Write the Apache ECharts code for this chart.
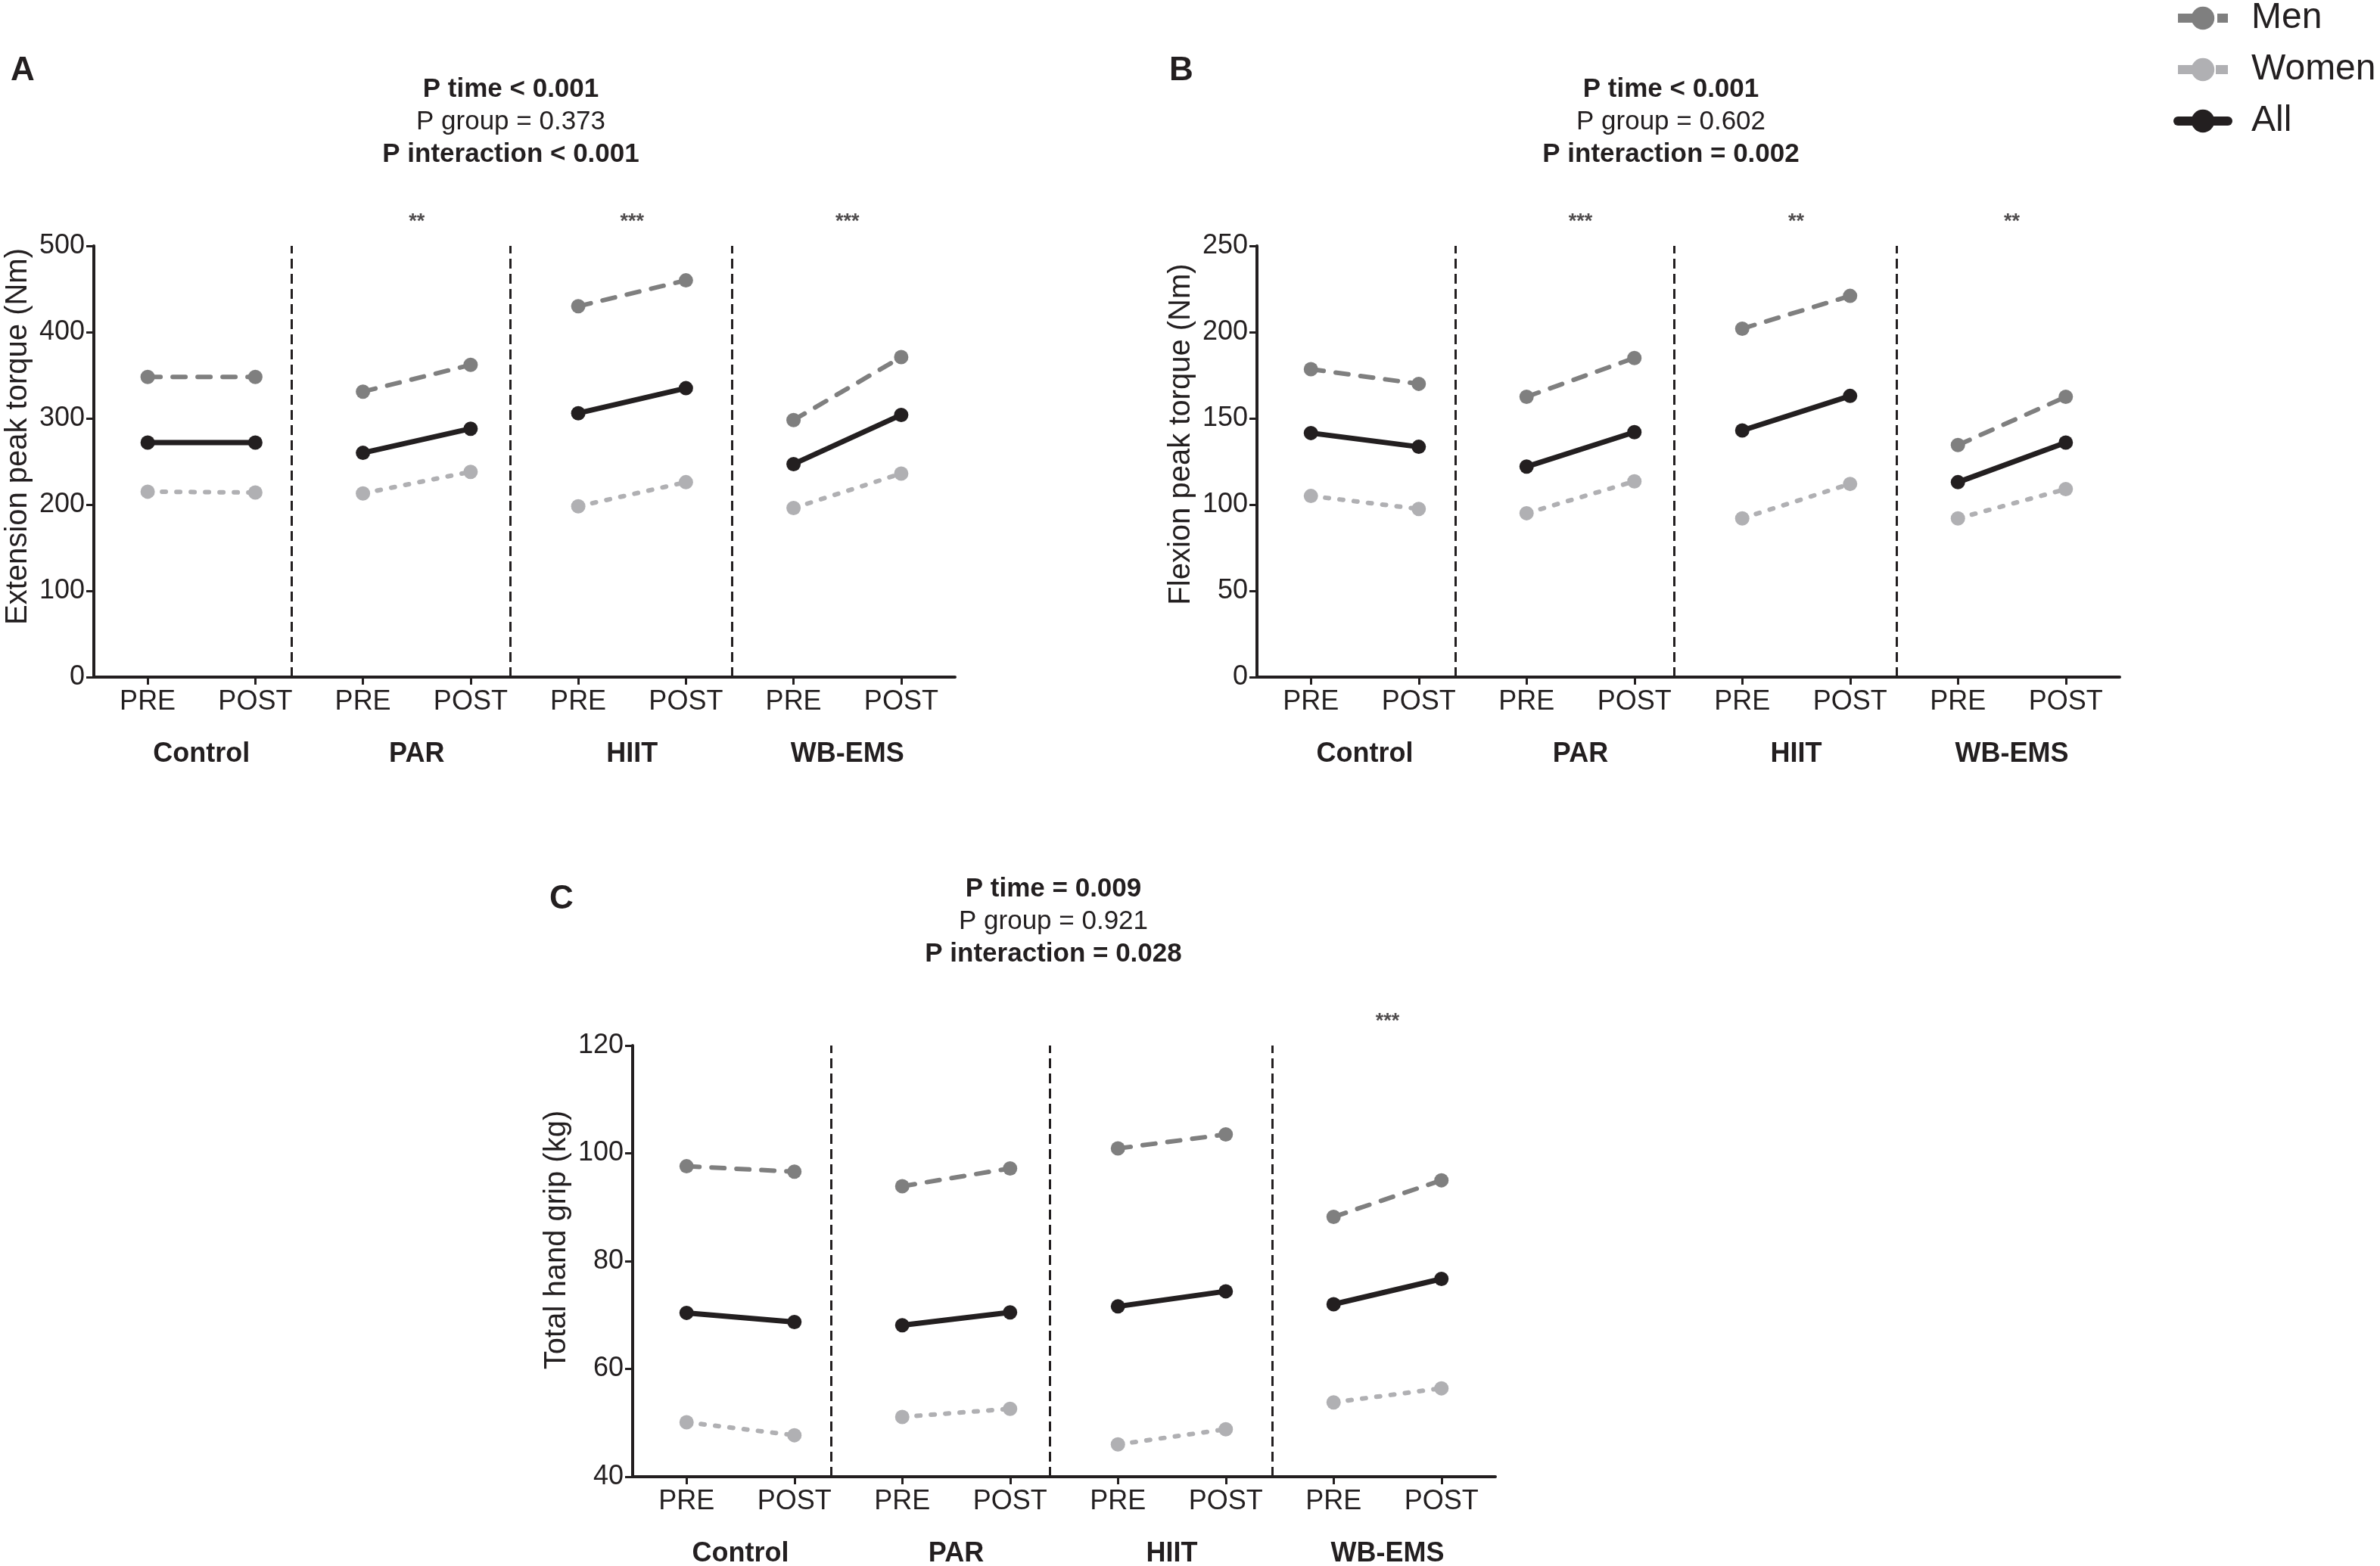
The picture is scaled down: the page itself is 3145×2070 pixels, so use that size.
<!DOCTYPE html>
<html>
<head>
<meta charset="utf-8">
<title>Strength PRE / POST</title>
<script src="https://cdn.jsdelivr.net/npm/echarts@6/dist/echarts.min.js"></script>
<style>
    html, body { margin: 0; padding: 0; background: #fff; }
    #main { width: 3145px; height: 2070px; }
</style>
</head>
<body>
<div id="main"></div>
<script>
// 数据
const timeLabels = ['PRE', 'POST', 'PRE', 'POST', 'PRE', 'POST', 'PRE', 'POST']
const groupNames = ['Control', 'PAR', 'HIIT', 'WB-EMS']
const dividerAt = [1.34, 3.37, 5.43]

// A: extension peak torque (Nm)
const extMen = [348, 348, 331, 362, 430, 460, 298, 371]
const extWomen = [215, 214, 213, 238, 198, 226, 196, 236]
const extAll = [272, 272, 260, 288, 306, 335, 247, 304]
const extStars = ['', '**', '***', '***']
const extStats = ['P time < 0.001', 'P group = 0.373', 'P interaction < 0.001']
const extTicks = [0, 500, 100]

// B: flexion peak torque (Nm)
const flexMen = [178.5, 170, 162.5, 185, 202, 221, 134.5, 162.5]
const flexWomen = [105, 97.5, 95, 113.5, 92, 112, 92, 109]
const flexAll = [141.5, 133.5, 122, 142, 143, 163, 113, 136]
const flexStars = ['', '***', '**', '**']
const flexStats = ['P time < 0.001', 'P group = 0.602', 'P interaction = 0.002']
const flexTicks = [0, 250, 50]

// C: total hand grip (kg)
const gripMen = [97.6, 96.6, 93.9, 97.2, 100.9, 103.5, 88.2, 95]
const gripWomen = [50.1, 47.7, 51.1, 52.6, 46, 48.8, 53.8, 56.4]
const gripAll = [70.4, 68.7, 68.1, 70.5, 71.6, 74.4, 72, 76.7]
const gripStars = ['', '', '', '***']
const gripStats = ['P time = 0.009', 'P group = 0.921', 'P interaction = 0.028']
const gripTicks = [40, 120, 20]

const FONT = '"Liberation Sans", Arial, sans-serif'
const INK = '#231f20'
const MEN = '#7f7f7f'
const WOMEN = '#b0b0b3'

const strengthChart = {

    init() {
        let chart = echarts.init(document.getElementById('main'))
        chart.setOption(this.createOption())
    },

    // 每个面板的布局
    panels() {
        return [
            { letter: 'A', name: 'Extension peak torque (Nm)', men: extMen, women: extWomen, all: extAll,
              stars: extStars, stats: extStats, ticks: extTicks, namePad: 66,
              grid: { left: 124, top: 325, width: 1138, height: 570 }, letterAt: [14, 72], titleAt: [675, 97] },
            { letter: 'B', name: 'Flexion peak torque (Nm)', men: flexMen, women: flexWomen, all: flexAll,
              stars: flexStars, stats: flexStats, ticks: flexTicks, namePad: 72,
              grid: { left: 1661, top: 325, width: 1140, height: 570 }, letterAt: [1545, 72], titleAt: [2208, 97] },
            { letter: 'C', name: 'Total hand grip (kg)', men: gripMen, women: gripWomen, all: gripAll,
              stars: gripStars, stats: gripStats, ticks: gripTicks, namePad: 56,
              grid: { left: 836, top: 1382, width: 1140, height: 570 }, letterAt: [726, 1167], titleAt: [1392, 1154] }
        ]
    },

    // PRE-POST 成对, 组之间断开
    pairs(values) {
        let out = []
        values.forEach((v, i) => {
            out.push([i, v])
            if (i % 2 === 1 && i < values.length - 1) out.push([i + 0.5, '-'])
        })
        return out
    },

    lineSeries(name, values, gi, color, width, dash) {
        return {
            name: name,
            type: 'line',
            xAxisIndex: gi * 2,
            yAxisIndex: gi,
            data: this.pairs(values),
            symbol: 'circle',
            symbolSize: 19,
            showSymbol: true,
            connectNulls: false,
            itemStyle: { color: color },
            lineStyle: { color: color, width: width, type: dash, cap: 'round' },
            emphasis: { disabled: true },
            silent: true
        }
    },

    createOption() {
        let option = {
            animation: false,
            backgroundColor: '#fff',
            textStyle: { fontFamily: FONT, color: INK },
            title: [],
            grid: [],
            xAxis: [],
            yAxis: [],
            series: [],
            legend: {
                data: [
                    { name: 'Men', lineStyle: { width: 12, type: [36, 16], cap: 'butt' } },
                    { name: 'Women', lineStyle: { width: 12, type: [30, 20], cap: 'butt' } },
                    { name: 'All', lineStyle: { width: 12, type: 'solid' } }
                ],
                orient: 'vertical',
                left: 2872,
                top: 0,
                padding: 0,
                itemWidth: 66,
                itemHeight: 38,
                itemGap: 20,
                selectedMode: false,
                textStyle: { fontFamily: FONT, fontSize: 48, color: INK, padding: [0, 0, 0, 26] }
            }
        }

        this.panels().forEach((p, gi) => {
            option.grid.push(Object.assign({ outerBoundsMode: 'none', containLabel: false }, p.grid))

            // 面板字母
            option.title.push({
                text: p.letter, left: p.letterAt[0], top: p.letterAt[1], padding: 0,
                textStyle: { fontFamily: FONT, fontSize: 44, fontWeight: 'bold', color: INK }
            })

            // P 值
            option.title.push({
                text: '{b|' + p.stats[0] + '}\n{n|' + p.stats[1] + '}\n{b|' + p.stats[2] + '}',
                left: p.titleAt[0], top: p.titleAt[1], textAlign: 'center', padding: 0,
                textStyle: {
                    fontWeight: 'normal',
                    rich: {
                        b: { fontFamily: FONT, fontSize: 35, fontWeight: 'bold', color: INK, lineHeight: 43 },
                        n: { fontFamily: FONT, fontSize: 35, fontWeight: 'normal', color: INK, lineHeight: 43 }
                    }
                }
            })

            // PRE / POST
            option.xAxis.push({
                gridIndex: gi, type: 'value', min: -0.5, max: 7.5,
                axisLine: { show: true, onZero: false, lineStyle: { color: INK, width: 4 } },
                axisTick: { show: true, length: 10, lineStyle: { color: INK, width: 3 }, customValues: [0, 1, 2, 3, 4, 5, 6, 7] },
                axisLabel: {
                    customValues: [0, 1, 2, 3, 4, 5, 6, 7],
                    formatter: v => timeLabels[Math.round(v)] || '',
                    fontFamily: FONT, fontSize: 36, color: INK, margin: 15
                },
                splitLine: { show: false }
            })
            // 组名
            option.xAxis.push({
                gridIndex: gi, type: 'value', min: -0.5, max: 7.5, position: 'bottom',
                axisLine: { show: false, onZero: false }, axisTick: { show: false }, splitLine: { show: false },
                axisLabel: {
                    customValues: [0.5, 2.5, 4.5, 6.5],
                    formatter: v => groupNames[Math.round((v - 0.5) / 2)] || '',
                    fontFamily: FONT, fontSize: 36, fontWeight: 'bold', color: INK, margin: 84
                }
            })

            option.yAxis.push({
                gridIndex: gi, type: 'value', min: p.ticks[0], max: p.ticks[1], interval: p.ticks[2],
                name: p.name, nameLocation: 'middle', nameGap: 80, nameRotate: 90,
                nameTextStyle: { fontFamily: FONT, fontSize: 40, color: INK, padding: [0, 0, 0, p.namePad] },
                axisLine: { show: true, onZero: false, lineStyle: { color: INK, width: 4 } },
                axisTick: { show: true, length: 10, lineStyle: { color: INK, width: 3 } },
                axisLabel: { fontFamily: FONT, fontSize: 36, color: INK, margin: 12 },
                splitLine: { show: false }
            })

            let men = this.lineSeries('Men', p.men, gi, MEN, 6, [17, 16])
            let women = this.lineSeries('Women', p.women, gi, WOMEN, 6, [5, 14])
            let all = this.lineSeries('All', p.all, gi, INK, 7, 'solid')

            // 组间虚线
            women.markLine = {
                silent: true,
                symbol: ['none', 'none'],
                label: { show: false },
                lineStyle: { color: INK, width: 3, type: [13, 7] },
                data: dividerAt.map(x => ({ xAxis: x }))
            }

            // 星号
            let stars = {
                name: 'stars',
                type: 'scatter',
                xAxisIndex: gi * 2,
                yAxisIndex: gi,
                symbolSize: 0,
                silent: true,
                clip: false,
                data: p.stars
                    .map((s, i) => ({ name: s, value: [2 * i + 0.5, p.ticks[1]] }))
                    .filter(d => d.name !== ''),
                label: {
                    show: true, position: 'top', distance: 18, formatter: '{b}',
                    fontFamily: FONT, fontSize: 27, fontWeight: 'bold', color: INK
                }
            }

            option.series.push(women, men, all, stars)
        })

        return option
    }
}

strengthChart.init()
</script>
</body>
</html>
